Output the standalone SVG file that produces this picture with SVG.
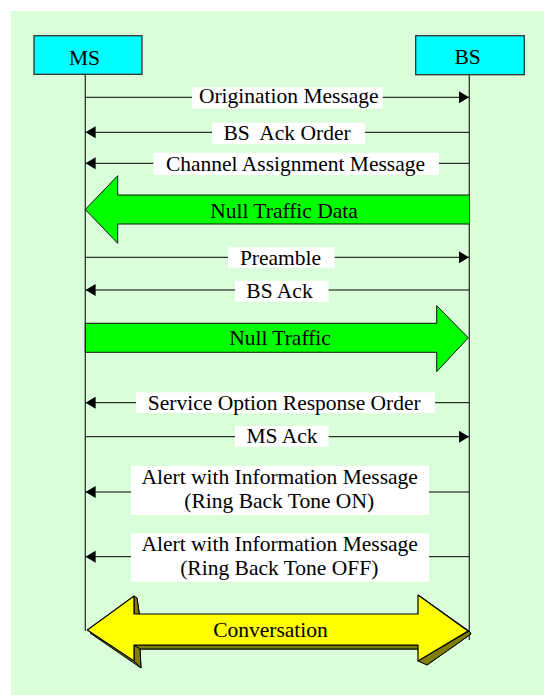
<svg xmlns="http://www.w3.org/2000/svg" width="544" height="695" viewBox="0 0 544 695">
<style>
text{font-family:"Liberation Serif","Times New Roman",serif;font-size:21.5px;fill:#000;text-anchor:middle;white-space:pre}
.box{fill:#00FFFF;stroke:#333;stroke-width:1.3}
.life{stroke:#333;stroke-width:1.3;fill:none}
.msg{stroke:#000;stroke-width:1;fill:none}
.lbl{fill:#fff}
.big{fill:#00FF00;stroke:#111;stroke-width:1}
.yel{fill:#FFFF00;stroke:#000;stroke-width:1.2;stroke-linejoin:round}
.olv{fill:#808000;stroke:#000;stroke-width:1;stroke-linejoin:round}
</style>
<defs>
<marker id="ah" viewBox="0 0 10 12" refX="10" refY="6" markerWidth="10" markerHeight="12" markerUnits="userSpaceOnUse" orient="auto">
<path d="M0,0 L10,6 L0,12 Z" fill="#000"/>
</marker>
</defs>
<rect x="11" y="11" width="533" height="684" fill="#D9FED9"/>
<g id="MS">
<rect class="box" x="34" y="35.7" width="108" height="38.6"/>
<text x="84.5" y="65">MS</text>
</g>
<g id="BS">
<rect class="box" x="415.7" y="35.7" width="108.6" height="39"/>
<text x="467.7" y="64.3">BS</text>
</g>
<g id="connectors">
<line class="life" x1="85.3" y1="74.3" x2="85.3" y2="630.7"/>
<line class="life" x1="469.3" y1="74.7" x2="469.3" y2="640"/>
<g id="m1">
<line class="msg" x1="85.3" y1="97.3" x2="469" y2="97.3" marker-end="url(#ah)"/>
<rect class="lbl" x="192" y="87.3" width="190.7" height="21.4"/>
<text x="288.8" y="102.5">Origination Message</text>
</g>
<g id="m2">
<line class="msg" x1="469" y1="132.3" x2="85.6" y2="132.3" marker-end="url(#ah)"/>
<rect class="lbl" x="212" y="122.7" width="153" height="21.3"/>
<text x="287" y="140">BS  Ack Order</text>
</g>
<g id="m3">
<line class="msg" x1="469" y1="163.3" x2="85.6" y2="163.3" marker-end="url(#ah)"/>
<rect class="lbl" x="153.3" y="152.7" width="285.7" height="22.3"/>
<text x="295.5" y="170.7">Channel Assignment Message</text>
</g>
<g id="m4">
<path class="big" d="M469,195 L117.7,195 L117.7,175.7 L85.3,209.5 L117.7,243.3 L117.7,224 L469,224"/>
<text x="284" y="217.8">Null Traffic Data</text>
</g>
<g id="m5">
<line class="msg" x1="85.3" y1="257.3" x2="469" y2="257.3" marker-end="url(#ah)"/>
<rect class="lbl" x="228" y="247.3" width="106.7" height="20.4"/>
<text x="280.5" y="264.8">Preamble</text>
</g>
<g id="m6">
<line class="msg" x1="469" y1="290" x2="85.6" y2="290" marker-end="url(#ah)"/>
<rect class="lbl" x="235" y="280.7" width="93.7" height="21"/>
<text x="279.5" y="298.3">BS Ack</text>
</g>
<g id="m7">
<path class="big" d="M85.3,323.3 L436.7,323.3 L436.7,305.7 L468.3,337.8 L436.7,371.7 L436.7,352.3 L85.3,352.3 Z"/>
<text x="280" y="345">Null Traffic</text>
</g>
<g id="m8">
<line class="msg" x1="469" y1="402.7" x2="85.6" y2="402.7" marker-end="url(#ah)"/>
<rect class="lbl" x="136" y="392.3" width="299" height="20.7"/>
<text x="284.3" y="410">Service Option Response Order</text>
</g>
<g id="m9">
<line class="msg" x1="85.3" y1="436.7" x2="469" y2="436.7" marker-end="url(#ah)"/>
<rect class="lbl" x="235" y="426" width="93.7" height="20.7"/>
<text x="282" y="443.3">MS Ack</text>
</g>
<g id="m10">
<line class="msg" x1="469" y1="492" x2="85.6" y2="492" marker-end="url(#ah)"/>
<rect class="lbl" x="131" y="466" width="298" height="49"/>
<text x="279.7" y="484">Alert with Information Message</text>
<text x="279.2" y="508.3">(Ring Back Tone ON)</text>
</g>
<g id="m11">
<line class="msg" x1="469" y1="556.7" x2="85.6" y2="556.7" marker-end="url(#ah)"/>
<rect class="lbl" x="131" y="533.3" width="298" height="48.4"/>
<text x="279.7" y="550.7">Alert with Information Message</text>
<text x="279.3" y="575">(Ring Back Tone OFF)</text>
</g>
<g id="m12">
<polygon class="olv" points="137,598 140,619 421,617 421,597 471,634 427,665 424,649 140,649 141,668 90,633"/>
<polygon class="olv" points="134,596 137,598 140,619 134,614"/>
<polygon class="olv" points="418,595 421,597 471,634 469,631"/>
<polygon class="olv" points="469,631 471,634 427,665 418,661"/>
<polygon class="olv" points="418,645 424,649 140,649 134,645"/>
<polygon class="olv" points="134,645 140,649 141,668 134,661"/>
<polygon class="yel" points="87.3,630 134,596 134,614 418,614 418,595 468,631 418,661 418,645 134,645 134,661"/>
<text x="270.5" y="636.5">Conversation</text>
</g>
</g>
</svg>
